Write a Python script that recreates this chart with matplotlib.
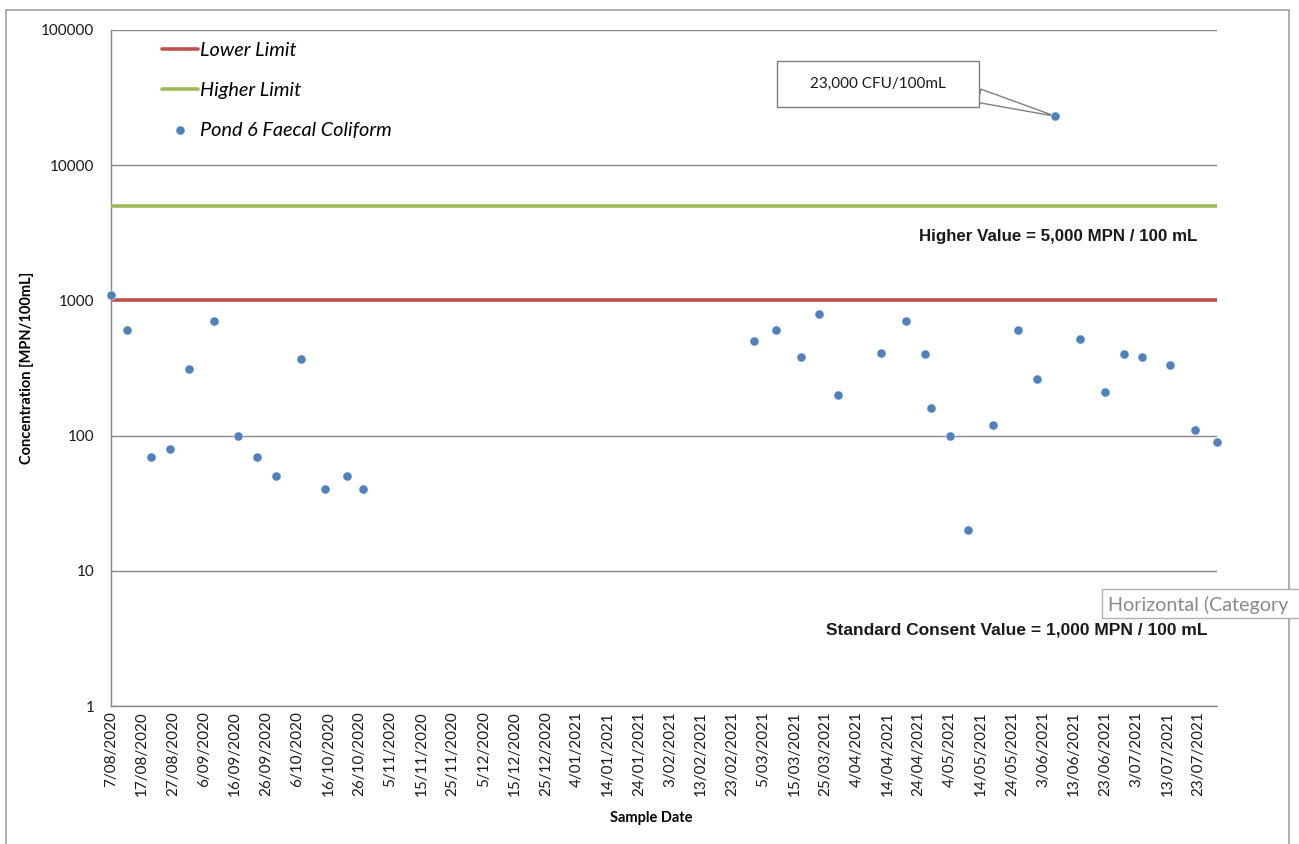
import numpy as np
import pandas as pd
import matplotlib
matplotlib.use("Agg")
import matplotlib.pyplot as plt
from matplotlib.path import Path
from matplotlib.patches import Rectangle
from matplotlib.transforms import Bbox, TransformedBbox

# ---------------- data ----------------
sample_dates = ['2020-08-07', '2020-08-12', '2020-08-20', '2020-08-26', '2020-09-01',
                '2020-09-09', '2020-09-17', '2020-09-23', '2020-09-29', '2020-10-07',
                '2020-10-15', '2020-10-22', '2020-10-27',
                '2021-03-02', '2021-03-09', '2021-03-17', '2021-03-23', '2021-03-29',
                '2021-04-12', '2021-04-20', '2021-04-26', '2021-04-28', '2021-05-04',
                '2021-05-10', '2021-05-18', '2021-05-26', '2021-06-01', '2021-06-07',
                '2021-06-15', '2021-06-23', '2021-06-29', '2021-07-05', '2021-07-14',
                '2021-07-22', '2021-07-29']
faecal_coliform = [1100, 600, 70, 80, 310, 700, 100, 70, 50, 370, 40, 50, 40,
                   500, 600, 380, 800, 200, 410, 700, 400, 160, 100, 20, 120,
                   600, 260, 23000, 520, 210, 400, 380, 330, 110, 90]
lower_limit = 1000
higher_limit = 5000

x_tick_labels = ['7/08/2020', '17/08/2020', '27/08/2020', '6/09/2020', '16/09/2020',
                 '26/09/2020', '6/10/2020', '16/10/2020', '26/10/2020', '5/11/2020',
                 '15/11/2020', '25/11/2020', '5/12/2020', '15/12/2020', '25/12/2020',
                 '4/01/2021', '14/01/2021', '24/01/2021', '3/02/2021', '13/02/2021',
                 '23/02/2021', '5/03/2021', '15/03/2021', '25/03/2021', '4/04/2021',
                 '14/04/2021', '24/04/2021', '4/05/2021', '14/05/2021', '24/05/2021',
                 '3/06/2021', '13/06/2021', '23/06/2021', '3/07/2021', '13/07/2021',
                 '23/07/2021']
y_tick_values = [1, 10, 100, 1000, 10000, 100000]
y_tick_labels = ['1', '10', '100', '1000', '10000', '100000']

annotation_text = '23,000 CFU/100mL'
higher_text = 'Higher Value = 5,000 MPN / 100 mL'
lower_text = 'Standard Consent Value = 1,000 MPN / 100 mL'

# ---------------- styling ----------------
BLUE = '#4F81BD'
RED = '#C0504D'
GREEN = '#9BBB59'
GRID = '#868686'
W, H = 1299, 844

plt.rcParams['font.family'] = ['Lato', 'DejaVu Sans']
BOLDFAM = ['Liberation Sans', 'DejaVu Sans']

fig = plt.figure(figsize=(W / 100, H / 100), dpi=100)
ax = fig.add_axes([111 / W, 1 - 706 / H, (1217 - 111) / W, (706 - 30) / H])

dates = pd.to_datetime(sample_dates)
tick_dates = pd.to_datetime(x_tick_labels, format='%d/%m/%Y')

ax.plot(dates, np.full(len(dates), lower_limit), color=RED, lw=2.6,
        solid_capstyle='round', label='Lower Limit', zorder=3)
ax.plot(dates, np.full(len(dates), higher_limit), color=GREEN, lw=2.6,
        solid_capstyle='round', label='Higher Limit', zorder=3)
ax.plot(dates, faecal_coliform, linestyle='none', marker='o', ms=6.6,
        color=BLUE, mec='white', mew=0.4, label='Pond 6 Faecal Coliform',
        zorder=5, clip_on=False)

ax.set_yscale('log')
ax.set_ylim(1, 100000)
ax.set_xlim(dates[0], dates[-1])
ax.yaxis.set_minor_locator(matplotlib.ticker.NullLocator())
ax.set_yticks(y_tick_values)
ax.set_yticklabels(y_tick_labels)
ax.set_xticks(tick_dates)
ax.set_xticklabels(x_tick_labels, rotation=90)
ax.tick_params(axis='y', length=0, pad=12, labelsize=11, labelcolor='#1a1a1a')
ax.tick_params(axis='x', length=0, pad=4, labelsize=11, labelcolor='#1a1a1a')
ax.xaxis.set_minor_locator(matplotlib.ticker.NullLocator())

ax.yaxis.grid(True, color=GRID, lw=1.0)
ax.set_axisbelow(True)
for s in ['top', 'right']:
    ax.spines[s].set_visible(False)
for s in ['left', 'bottom']:
    ax.spines[s].set_color(GRID)
    ax.spines[s].set_linewidth(1.0)

# axis titles
fig.text(651 / W, 1 - 818 / H, 'Sample Date', ha='center', va='center',
         fontsize=10.5, fontweight='bold')
fig.text(27 / W, 1 - 368 / H, 'Concentration [MPN/100mL]', ha='center', va='center',
         rotation=90, fontsize=10.5, fontweight='bold')

# legend
leg = ax.legend(loc='upper left', bbox_to_anchor=((162 - 111) / 1106, 1 - 12 / 676),
                frameon=False, borderpad=0, borderaxespad=0, handlelength=1.8,
                handletextpad=0.1, labelspacing=1.17,
                prop={'style': 'italic', 'size': 14.3})

# limit texts
ax.text(1197 / W, 1 - 236 / H, higher_text, transform=fig.transFigure, ha='right',
        va='center', fontsize=12.2, fontweight='bold', family=BOLDFAM, color='#1a1a1a')
ax.text(1207 / W, 1 - 630 / H, lower_text, transform=fig.transFigure, ha='right',
        va='center', fontsize=12.5, fontweight='bold', family=BOLDFAM, color='#1a1a1a')


# callout annotation
def callout_box(x0, y0, width, height, mutation_size):
    padx = 2.15 * mutation_size
    pady = 1.05 * mutation_size
    xa, xb = x0 - padx, x0 + width + padx
    ya, yb = y0 - pady, y0 + height + pady
    return Path([(xa, ya), (xb, ya), (xb, yb), (xa, yb), (xa, ya)],
                [Path.MOVETO, Path.LINETO, Path.LINETO, Path.LINETO, Path.CLOSEPOLY])


peak_idx = int(np.argmax(faecal_coliform))
ax.annotate(annotation_text, xy=(dates[peak_idx], faecal_coliform[peak_idx]),
            xytext=(878 / W, 1 - 84 / H), textcoords='figure fraction',
            ha='center', va='center', fontsize=11, color='#1a1a1a',
            bbox=dict(boxstyle=callout_box, fc='white', ec='#7f7f7f', lw=1),
            arrowprops=dict(arrowstyle='wedge,tail_width=0.9,shrink_factor=0.5',
                            fc='white', ec='#7f7f7f', lw=1, relpos=(1.0, 0.3),
                            shrinkA=0, shrinkB=0),
            zorder=4)

# outer chart border
fig.add_artist(Rectangle((6 / W, -0.05), (1289 - 6) / W, 1.05 - 10 / H,
                         transform=fig.transFigure, fill=False, ec='#a0a0a0', lw=1.2))

# tooltip artefact
fig.add_artist(Rectangle((1102 / W, 1 - 618 / H), (1310 - 1102) / W, 29 / H,
                         transform=fig.transFigure, fc='white', ec='#b0b0b0', lw=1,
                         zorder=10))
tip = fig.text(1108 / W, 1 - 605 / H, 'Horizontal (Category', ha='left', va='center',
               fontsize=14.2, color='#8a8a8a', zorder=11)
tip.set_clip_box(TransformedBbox(Bbox([[1102 / W, 0], [1290 / W, 1]]), fig.transFigure))
tip.set_clip_on(True)

fig.savefig('out.png', dpi=100)
